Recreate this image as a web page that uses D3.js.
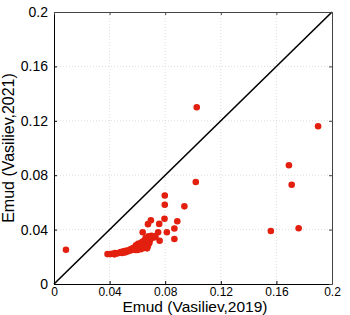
<!DOCTYPE html>
<html><head><meta charset="utf-8">
<script src="https://cdn.jsdelivr.net/npm/d3@7"></script>
<style>body{margin:0;background:#fff}svg{display:block}text{font-family:"Liberation Sans",Arial,sans-serif}</style>
</head><body>
<script>
const xTicks = [0, 0.04, 0.08, 0.12, 0.16, 0.2];
const yTicks = [0, 0.04, 0.08, 0.12, 0.16, 0.2];
const xTickLabels = ["0", "0.04", "0.08", "0.12", "0.16", "0.2"];
const yTickLabels = ["0", "0.04", "0.08", "0.12", "0.16", "0.2"];
const xLabel = "Emud (Vasiliev,2019)";
const yLabel = "Emud (Vasiliev,2021)";
const emud2019 = [0.0086,0.1027,0.190,0.169,0.171,0.156,0.176,0.102,0.0797,0.0797,0.0938,0.0887,0.0795,0.0866,0.0866,0.0697,0.0676,0.0757,0.0638,0.0812,0.0749,0.0760,
0.0385,0.0405,0.0420,0.0435,0.0440,0.0455,0.0470,0.0480,0.0490,0.0500,0.0510,0.0515,0.0525,0.0535,0.0545,0.0550,0.0560,0.0565,0.0575,0.0580,0.0585,0.0590,0.0595,0.0600,0.0605,0.0610,0.0615,0.0620,0.0625,0.0630,0.0635,0.0640,0.0645,0.0650,0.0655,0.0660,0.0665,0.0670,0.0672,0.0680,0.0685,0.0690,0.0700,0.0710,0.0720,0.0730,0.0600,0.0625,0.0650,0.0675];
const emud2021 = [0.0252,0.130,0.116,0.0873,0.073,0.039,0.041,0.075,0.0651,0.0583,0.0571,0.0461,0.0480,0.0408,0.0331,0.0468,0.0440,0.0442,0.0381,0.0381,0.0380,0.0318,
0.0220,0.0220,0.0222,0.0218,0.0228,0.0225,0.0230,0.0235,0.0228,0.0240,0.0232,0.0245,0.0238,0.0248,0.0245,0.0255,0.0250,0.0262,0.0258,0.0270,0.0250,0.0285,0.0262,0.0275,0.0295,0.0265,0.0285,0.0300,0.0270,0.0290,0.0310,0.0280,0.0300,0.0320,0.0290,0.0340,0.0310,0.0262,0.0330,0.0350,0.0300,0.0320,0.0355,0.0340,0.0350,0.0345,0.0250,0.0255,0.0265,0.0280];
const diag = [0, 0.2];

const W = 350, H = 315;
const m = {l: 54, r: 332, t: 12, b: 284};
const svg = d3.select("body").append("svg").attr("width", W).attr("height", H);
const x = d3.scaleLinear().domain([0, 0.2]).range([m.l, m.r]);
const y = d3.scaleLinear().domain([0, 0.2]).range([m.b, m.t]);

// grid
const g = svg.append("g");
g.selectAll(".gx").data(xTicks.slice(1, -1)).join("line")
  .attr("x1", d => x(d)).attr("x2", d => x(d)).attr("y1", m.t).attr("y2", m.b)
  .attr("stroke", "#d6d6d6").attr("stroke-width", 0.8).attr("stroke-dasharray", "1,2");
g.selectAll(".gy").data(yTicks.slice(1, -1)).join("line")
  .attr("y1", d => y(d)).attr("y2", d => y(d)).attr("x1", m.l).attr("x2", m.r)
  .attr("stroke", "#d6d6d6").attr("stroke-width", 0.8).attr("stroke-dasharray", "1,2");

// diagonal
svg.append("line").attr("x1", x(diag[0])).attr("y1", y(diag[0])).attr("x2", x(diag[1])).attr("y2", y(diag[1]))
  .attr("stroke", "#000").attr("stroke-width", 1.6);

// points
svg.append("g").selectAll("circle").data(emud2019.map((v, i) => [v, emud2021[i]])).join("circle")
  .attr("cx", d => x(d[0])).attr("cy", d => y(d[1])).attr("r", 3.3).attr("fill", "#e3200f");

// axes
const fmtX = (d, i) => xTickLabels[i];
const fmtY = (d, i) => yTickLabels[i];
const ax = svg.append("g").attr("transform", `translate(0,${m.b})`)
  .call(d3.axisBottom(x).tickValues(xTicks).tickFormat(fmtX).tickSizeInner(-3).tickSizeOuter(0).tickPadding(3));
const ay = svg.append("g").attr("transform", `translate(${m.l},0)`)
  .call(d3.axisLeft(y).tickValues(yTicks).tickFormat(fmtY).tickSizeInner(-3).tickSizeOuter(0).tickPadding(6));
const at = svg.append("g").attr("transform", `translate(0,${m.t})`)
  .call(d3.axisTop(x).tickValues(xTicks).tickFormat("").tickSizeInner(-3).tickSizeOuter(0));
const ar = svg.append("g").attr("transform", `translate(${m.r},0)`)
  .call(d3.axisRight(y).tickValues(yTicks).tickFormat("").tickSizeInner(-3).tickSizeOuter(0));
ax.selectAll("text").attr("font-size", 12);
ay.selectAll("text").attr("font-size", 14);
[ax, ay].forEach(a => {
  a.selectAll("text").attr("fill", "#000").attr("font-family", '"Liberation Sans",Arial,sans-serif');
  a.select(".domain").attr("stroke", "#000").attr("stroke-width", 1);
  a.selectAll(".tick line").attr("stroke", "#000");
});
[at, ar].forEach(a => {
  a.select(".domain").attr("stroke", "#444").attr("stroke-width", 1);
  a.selectAll(".tick line").attr("stroke", "#444");
});

svg.append("text").attr("x", (m.l + m.r) / 2 + 2).attr("y", 311.8).attr("text-anchor", "middle")
  .attr("font-size", 15.5).text(xLabel);
svg.append("text").attr("transform", `translate(14,${(m.t + m.b) / 2}) rotate(-90)`).attr("text-anchor", "middle")
  .attr("font-size", 16).text(yLabel);
</script>
</body></html>
